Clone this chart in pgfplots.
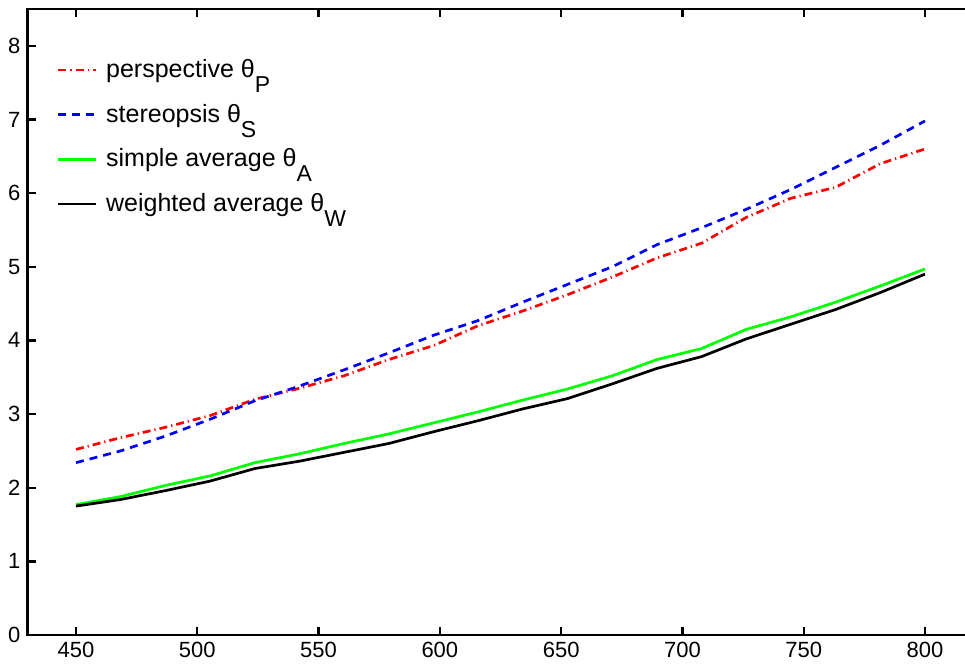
\documentclass[border=0pt]{standalone}
\usepackage{pgfplots}
\pgfplotsset{compat=1.18}
\usepackage{fontspec}
\setmainfont{Liberation Sans}

\newcommand{\sub}[1]{\raisebox{-0.6em}{\fontsize{11.5}{12}\selectfont #1}}

\begin{document}
\begin{tikzpicture}
\path[use as bounding box] (0,0) rectangle (482.5pt,334.5pt);
\begin{axis}[
  scale only axis, at={(13.75pt,17pt)}, anchor=south west,
  width=473pt, height=313pt,
  xmin=430, xmax=820, ymin=0, ymax=8.5,
  xtick={450,500,...,800}, ytick={0,1,...,8},
  font=\fontsize{11}{13}\selectfont,
  tick label style={/pgf/number format/assume math mode=true},
  axis line style={line width=1.2pt},
  tick style={line width=1.2pt,black},
  major tick length=4pt,
  tick align=inside,
  clip=false,
  legend cell align=left,
  legend style={at={(0.0245,0.933)}, anchor=north west, draw=none, fill=none,
    font=\fontsize{12.5}{15}\selectfont, row sep=7.8pt,
    nodes={inner sep=2pt},
    /tikz/every odd column/.append style={column sep=2.2pt}},
  legend image code/.code={\draw[#1] (0pt,0pt) -- (19pt,0pt);},
]
% perspective
\addplot[red, line width=1.35pt, dash pattern=on 4pt off 2pt on 0.6pt off 2pt] coordinates {
(450,2.52) (468.4,2.68) (486.8,2.82) (505.3,2.98) (523.7,3.20) (542.1,3.35)
(560.5,3.52) (578.9,3.74) (597.4,3.93) (615.8,4.20) (634.2,4.40) (652.6,4.62)
(671.1,4.86) (689.5,5.12) (707.9,5.32) (726.3,5.67) (744.7,5.93) (763.2,6.08)
(781.6,6.40) (800,6.60)};
\addlegendentry{perspective θ\sub{P}}
% stereopsis
\addplot[blue, line width=1.35pt, dash pattern=on 4pt off 3pt] coordinates {
(450,2.34) (468.4,2.50) (486.8,2.70) (505.3,2.93) (523.7,3.18) (542.1,3.38)
(560.5,3.60) (578.9,3.83) (597.4,4.07) (615.8,4.27) (634.2,4.52) (652.6,4.76)
(671.1,5.00) (689.5,5.30) (707.9,5.53) (726.3,5.78) (744.7,6.05) (763.2,6.35)
(781.6,6.65) (800,6.98)};
\addlegendentry{stereopsis θ\sub{S}}
% simple average
\addplot[green, line width=1.35pt] coordinates {
(450,1.77) (468.4,1.88) (486.8,2.03) (505.3,2.16) (523.7,2.34) (542.1,2.46)
(560.5,2.60) (578.9,2.73) (597.4,2.88) (615.8,3.03) (634.2,3.19) (652.6,3.34)
(671.1,3.52) (689.5,3.74) (707.9,3.89) (726.3,4.15) (744.7,4.32) (763.2,4.52)
(781.6,4.74) (800,4.97)};
\addlegendentry{simple average θ\sub{A}}
% weighted average
\addplot[black, line width=1.35pt] coordinates {
(450,1.75) (468.4,1.84) (486.8,1.96) (505.3,2.09) (523.7,2.26) (542.1,2.36)
(560.5,2.48) (578.9,2.60) (597.4,2.76) (615.8,2.91) (634.2,3.07) (652.6,3.21)
(671.1,3.41) (689.5,3.62) (707.9,3.78) (726.3,4.02) (744.7,4.22) (763.2,4.42)
(781.6,4.65) (800,4.90)};
\addlegendentry{weighted average θ\sub{W}}
\end{axis}
\end{tikzpicture}
\end{document}
